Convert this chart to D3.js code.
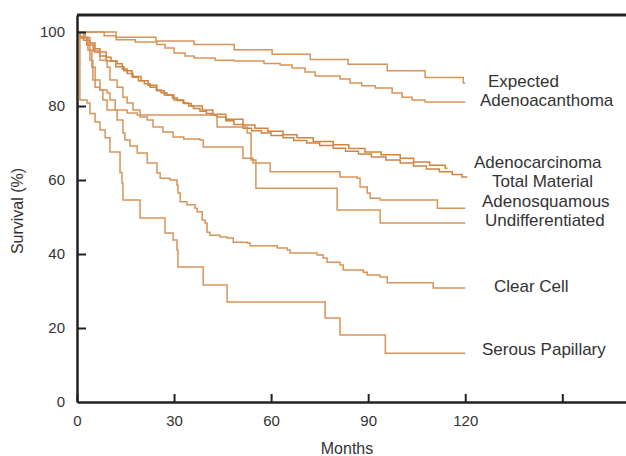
<!DOCTYPE html>
<html>
<head>
<meta charset="utf-8">
<script src="https://cdn.jsdelivr.net/npm/d3@7"></script>
<style>
  body { margin: 0; background: #fff; }
  text { font-family: "Liberation Sans", Arial, sans-serif; fill: #333; }
</style>
</head>
<body>
<div id="chart"></div>
<script>
// survival curves: [month, survival %]
var expected = [[0,100],[12.1,98.6],[24.4,97.6],[36.2,96.6],[48.6,95.2],[60.3,94.0],[72.1,92.6],[83.8,91.3],[95.9,89.5],[107.6,87.7],[119.4,86.2],[120,86.2]];

var adenoacanthoma = [[0,100],[8.4,99],[12.1,97.9],[18,97.3],[24.7,96.6],[27.2,95.7],[30,94.3],[33.4,93.5],[36.2,93],[42.7,92.4],[48.6,92.2],[57.8,91.5],[62.8,91.1],[66.5,90.3],[70.5,89.2],[73.6,88.1],[81.3,87.3],[84.4,86.2],[88,85.5],[92.2,84.9],[97.4,83.5],[100.5,82.4],[103.6,81.6],[107.6,81.1],[120,81.1]];

var adenocarcinoma = [[0,100],[1,98.4],[3,96.5],[5,94.9],[7,93.5],[9,92.2],[12,90.6],[14.5,89.5],[17,88],[19.8,86.8],[22,85.6],[24.7,84.1],[27,83],[30,81.6],[33,80.7],[35.3,80],[38.7,78.9],[42,77.8],[46,76.4],[51.3,74.9],[55,74],[59,73.2],[63.7,72.2],[68,71.4],[73,70.4],[79.2,69.5],[84,68.5],[89,67.6],[94,66.8],[99.9,65.9],[104,64.9],[109,64],[113.8,63.2],[114.5,63.2]];

var totalMaterial = [[0,100],[1,98.8],[2,97.8],[4,97],[5.5,95.5],[7.1,94.6],[9,93.2],[10.5,92.2],[12.4,91.4],[14,90],[15.5,88.8],[17.3,87.8],[19,86.8],[20.8,86],[22.6,85.1],[24.5,84.3],[26,83.6],[27.8,83],[29.5,82.2],[31,81.5],[32.8,80.8],[34.5,80],[36,79.3],[38,78.6],[40,78],[41.5,77.5],[43.3,77],[46,76],[48.5,75],[51.3,74],[54,73.3],[57,72.7],[60,72],[63.7,71.4],[67,70.7],[71,70],[75,69.3],[79.2,68.6],[83,67.8],[87,67],[91,66.2],[95.5,65.4],[99.9,64.6],[104,63.8],[108,63],[112,62.2],[116,61.5],[119,60.8],[120.6,60.8]];

var adenosquamous = [[0,100],[2.5,98.5],[4,97],[5.5,94.5],[7.1,92.4],[9.3,90.5],[10.2,87],[12.4,85.1],[14.2,82.4],[15.5,80.8],[17.3,78.9],[19.5,77],[21.7,76.2],[23.5,74.3],[26.6,73],[29.7,71.6],[33,71.1],[38,70.8],[39,68.9],[51.3,65.9],[54.4,64.6],[59.7,62.2],[81.3,60.8],[86.6,60.5],[87.5,58.1],[89.7,56.5],[90.6,55.1],[93.7,54.6],[111.4,52.4],[120,52.4]];

var undifferentiated = [[0,100],[2.5,98.6],[3.4,95.1],[4.6,90.5],[5.6,85.1],[7.1,84.3],[9.3,83.5],[10.2,81.6],[11.8,78.9],[15.5,78.1],[18.6,77.6],[43.3,74.3],[52.6,72.7],[53.8,65.4],[55.3,57.8],[80.4,51.9],[93.7,48.4],[120,48.4]];

var clearCell = [[0,100],[2,98.5],[3.1,97],[4,92.4],[4.9,87],[7.1,84.3],[8,81.6],[9.3,78.9],[12.4,76.2],[14.2,72.7],[14.8,70.8],[16.4,69.2],[18.6,67.3],[21.7,64.6],[24.7,61.9],[25.7,60.5],[28.8,60],[30.9,58.6],[31.2,56.5],[31.9,54.1],[34,53.3],[36.5,52.4],[37.1,51.4],[38.7,49.2],[39.6,48.4],[40.2,45.9],[41.1,45.1],[44.2,44.6],[46.4,44.3],[48.3,43.2],[52.6,43],[53.5,42.2],[61.9,41.6],[65,41.1],[65.9,40.3],[74.2,39.7],[76.1,38.9],[77.3,37.8],[81.3,37],[82.3,35.7],[88.5,35.1],[89.7,34.3],[93.7,33.8],[95.9,32.2],[110.1,30.8],[120,30.8]];

var serousPapillary = [[0,100],[0.9,81.6],[3.1,80.8],[4,78],[5.6,75.7],[7.1,73.5],[8.7,71.4],[10.2,67.6],[13.3,62],[13.9,59.2],[14.2,54.6],[19.5,49.7],[27.2,45.7],[29.7,43.8],[30.9,41.1],[31.2,36.5],[39,31.6],[46.4,27],[76.7,22.7],[81.3,18.1],[95.3,13.2],[120,13.2]];

var seriesNames = ["Expected", "Adenoacanthoma", "Adenocarcinoma", "Total Material",
                   "Adenosquamous", "Undifferentiated", "Clear Cell", "Serous Papillary"];
var seriesData = [expected, adenoacanthoma, adenocarcinoma, totalMaterial,
                  adenosquamous, undifferentiated, clearCell, serousPapillary];

var xTicks = [0, 30, 60, 90, 120, 150];
var yTicks = [0, 20, 40, 60, 80, 100];

// label placement (pixels, left x / baseline y)
var labelPos = [[488,87],[480,106],[474,168],[492,187],[482,207],[485,226],[494,292],[482,355]];

var width = 626, height = 456;

var svg = d3.select("#chart").append("svg")
    .attr("width", width)
    .attr("height", height);

var x = d3.scaleLinear().domain([0, 170]).range([77, 627]);
var y = d3.scaleLinear().domain([0, 104.6]).range([402, 15]);

// top frame line
svg.append("line")
    .attr("x1", 77).attr("x2", width)
    .attr("y1", y(104.6)).attr("y2", y(104.6))
    .attr("stroke", "#222")
    .attr("stroke-width", 3);

var line = d3.line()
    .x(function (d) { return x(d[0]); })
    .y(function (d) { return y(d[1]); })
    .curve(d3.curveStepAfter);

svg.selectAll("path.curve")
    .data(seriesData)
    .enter()
    .append("path")
    .attr("class", "curve")
    .attr("d", line)
    .attr("fill", "none")
    .attr("stroke", function (d, i) { return (i == 2 || i == 3) ? "#cf843f" : "#d69459"; })
    .attr("stroke-width", 1.5);

// axes
var xAxis = svg.append("g")
    .attr("transform", "translate(0," + y(0) + ")")
    .call(d3.axisBottom(x).tickValues(xTicks).tickSizeInner(-8).tickSizeOuter(0).tickPadding(13)
        .tickFormat(function (d) { return d == 150 ? "" : d; }));

var yAxis = svg.append("g")
    .attr("transform", "translate(" + x(0) + ",0)")
    .call(d3.axisLeft(y).tickValues(yTicks).tickSizeInner(-9).tickSizeOuter(0).tickPadding(12));

svg.selectAll(".domain").attr("stroke", "#222").attr("stroke-width", 2.5);
svg.selectAll(".tick line").attr("stroke", "#222").attr("stroke-width", 2);
svg.selectAll(".tick text").style("font-size", "15px").attr("fill", "#333");
yAxis.selectAll(".tick").filter(function (d) { return d == 0; }).select("line").remove();

// series labels
svg.selectAll("text.label")
    .data(seriesNames)
    .enter()
    .append("text")
    .attr("class", "label")
    .attr("x", function (d, i) { return labelPos[i][0]; })
    .attr("y", function (d, i) { return labelPos[i][1]; })
    .style("font-size", "17px")
    .text(function (d) { return d; });

// axis titles
svg.append("text")
    .attr("x", 347).attr("y", 454)
    .attr("text-anchor", "middle")
    .style("font-size", "16px")
    .text("Months");

svg.append("text")
    .attr("transform", "translate(23,211) rotate(-90)")
    .attr("text-anchor", "middle")
    .style("font-size", "16px")
    .text("Survival (%)");
</script>
</body>
</html>
